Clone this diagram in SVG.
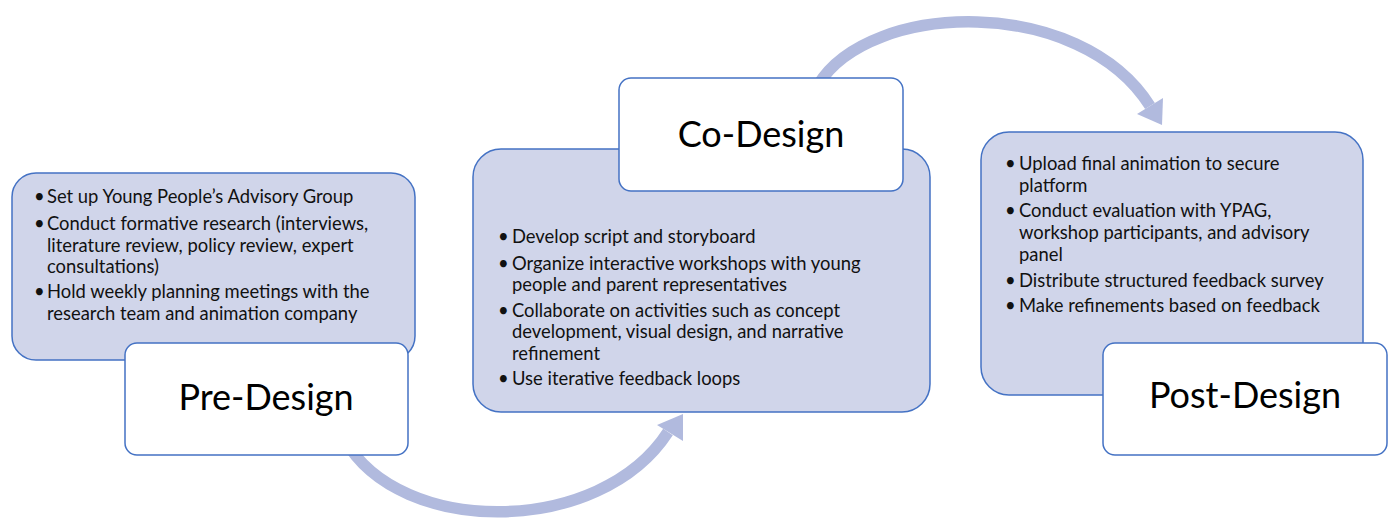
<svg xmlns="http://www.w3.org/2000/svg" width="1390" height="521" viewBox="0 0 1390 521">
  <defs>
    <style>
      .panel { fill: #d0d5ea; stroke: #4472c4; stroke-width: 1.5; }
      .label { fill: #ffffff; stroke: #4472c4; stroke-width: 1.5; }
      .body { font-family: Lato, "Liberation Sans", Arial, sans-serif; font-size: 18.4px; fill: #111111; }
      .title { font-family: Lato, "Liberation Sans", Arial, sans-serif; font-size: 36px; fill: #000000; text-anchor: middle; }
      .flow { fill: none; stroke: #b1bade; stroke-width: 11.5; }
      .head { fill: #b1bade; }
    </style>
  </defs>
  <rect width="1390" height="521" fill="#ffffff"/>

  <!-- curved connectors between the stages -->
  <g id="connectors">
    <path class="flow" d="M 345 440 C 400 537, 600 537, 668 432"/>
    <polygon class="head" points="683,414 683,441 657,425"/>
    <path class="flow" d="M 818 85 C 870 0, 1080 -5, 1150 106"/>
    <polygon class="head" points="1162,125 1163,98 1137,114"/>
  </g>

  <!-- Pre-Design stage -->
  <g id="pre-design">
    <rect class="panel" x="12" y="173" width="403" height="187" rx="24"/>
    <text class="body">
      <tspan x="34" y="203">•</tspan><tspan x="47" y="203">Set up Young People’s Advisory Group</tspan>
      <tspan x="34" y="230">•</tspan><tspan x="47" y="230">Conduct formative research (interviews,</tspan>
      <tspan x="47" y="252">literature review, policy review, expert</tspan>
      <tspan x="47" y="273">consultations)</tspan>
      <tspan x="34" y="298">•</tspan><tspan x="47" y="298">Hold weekly planning meetings with the</tspan>
      <tspan x="47" y="320">research team and animation company</tspan>
    </text>
    <rect class="label" x="125" y="343" width="283" height="112" rx="12"/>
    <text class="title" x="266" y="410">Pre-Design</text>
  </g>

  <!-- Co-Design stage -->
  <g id="co-design">
    <rect class="panel" x="473" y="149" width="457" height="263" rx="28"/>
    <rect class="label" x="619" y="78" width="284" height="113" rx="12"/>
    <text class="title" x="761" y="147">Co-Design</text>
    <text class="body">
      <tspan x="498" y="243">•</tspan><tspan x="512" y="243">Develop script and storyboard</tspan>
      <tspan x="498" y="270">•</tspan><tspan x="512" y="270">Organize interactive workshops with young</tspan>
      <tspan x="512" y="291">people and parent representatives</tspan>
      <tspan x="498" y="317">•</tspan><tspan x="512" y="317">Collaborate on activities such as concept</tspan>
      <tspan x="512" y="338">development, visual design, and narrative</tspan>
      <tspan x="512" y="360">refinement</tspan>
      <tspan x="498" y="385">•</tspan><tspan x="512" y="385">Use iterative feedback loops</tspan>
    </text>
  </g>

  <!-- Post-Design stage -->
  <g id="post-design">
    <rect class="panel" x="981" y="132" width="382" height="263" rx="28"/>
    <text class="body">
      <tspan x="1005" y="170">•</tspan><tspan x="1019" y="170">Upload final animation to secure</tspan>
      <tspan x="1019" y="192">platform</tspan>
      <tspan x="1005" y="217">•</tspan><tspan x="1019" y="217">Conduct evaluation with YPAG,</tspan>
      <tspan x="1019" y="239">workshop participants, and advisory</tspan>
      <tspan x="1019" y="261">panel</tspan>
      <tspan x="1005" y="287">•</tspan><tspan x="1019" y="287">Distribute structured feedback survey</tspan>
      <tspan x="1005" y="312">•</tspan><tspan x="1019" y="312">Make refinements based on feedback</tspan>
    </text>
    <rect class="label" x="1103" y="343" width="284" height="112" rx="12"/>
    <text class="title" x="1245" y="408">Post-Design</text>
  </g>
</svg>
